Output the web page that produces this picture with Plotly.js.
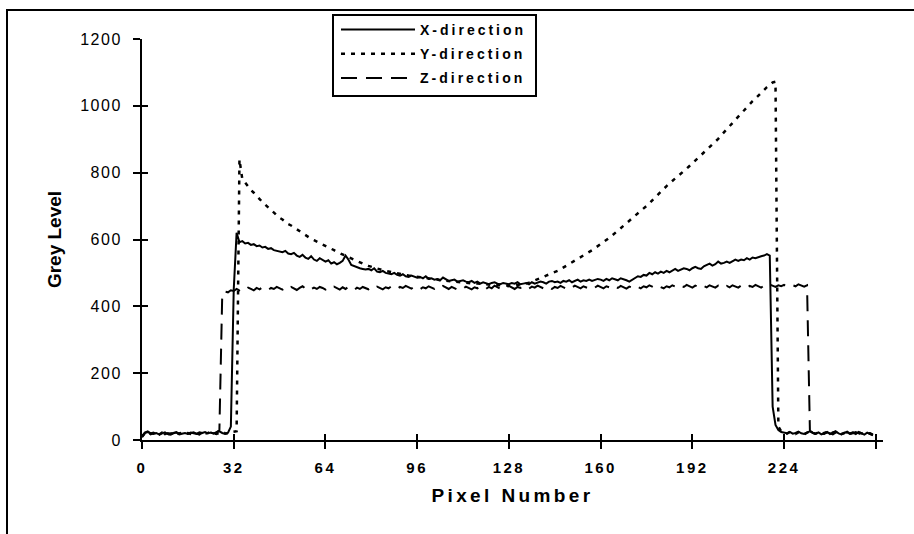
<!DOCTYPE html>
<html>
<head>
<meta charset="utf-8">
<script src="https://cdn.plot.ly/plotly-3.0.1.min.js"></script>
<style>
  html, body { margin: 0; padding: 0; background: #fff; }
  #chart { width: 914px; height: 534px; }
  .legendtext { letter-spacing: 3px; }
  .xtick text { letter-spacing: 2.5px; }
  .ytick text { letter-spacing: 1.5px; }
  .xtitle { letter-spacing: 3.4px; }
</style>
</head>
<body>
<div id="chart"></div>
<script>
// Pixel index (x axis)
const pixelNumber = Array.from({length: 256}, (_, i) => i);

// Tick positions / labels
const xTickValues = [0, 32, 64, 96, 128, 160, 192, 224, 256];
const xTickLabels = ['0', '32', '64', '96', '128', '160', '192', '224', ''];
const yTickValues = [0, 200, 400, 600, 800, 1000, 1200];

// Series names
const seriesNames = ['X-direction', 'Y-direction', 'Z-direction'];

// Grey level profiles
const xDirection = [
  8,22,26,20,18,21,17,19,23,18,16,20,22,17,19,21,
  18,20,23,19,17,21,24,20,22,19,23,26,21,18,22,40,
  450,620,592,595,588,590,584,586,580,582,576,578,572,574,568,566,
  565,562,566,558,556,560,552,548,554,546,542,550,540,536,544,540,
  534,538,528,532,526,530,536,552,540,524,520,516,514,512,510,512,
  508,514,504,502,506,500,498,496,500,494,492,496,490,488,492,490,
  486,488,484,490,482,484,480,482,478,486,480,476,478,480,474,476,
  478,474,472,476,470,474,468,472,470,466,470,472,468,466,470,468,
  466,470,468,472,466,468,470,466,472,468,470,474,472,468,474,476,
  472,474,470,476,474,478,472,476,480,474,478,476,480,476,478,482,
  480,476,482,478,484,480,478,484,482,478,474,480,486,490,488,494,
  492,500,496,502,498,504,500,506,502,508,512,506,510,514,512,508,
  514,518,514,512,520,524,528,522,526,534,528,530,534,530,536,540,
  536,540,538,544,540,546,544,548,550,552,556,552,100,45,30,24,
  22,20,24,19,21,25,20,18,22,26,21,19,23,17,20,24,
  18,22,26,20,17,21,25,19,22,18,24,20,16,22,19,14
];

const yDirection = [
  10,20,24,18,21,19,16,22,20,17,19,23,18,20,22,19,
  21,18,22,20,17,23,19,21,24,20,18,22,25,20,19,23,
  24,26,840,780,770,758,748,740,730,720,712,704,696,688,680,672,
  665,660,652,646,642,636,630,624,618,614,608,602,598,594,590,584,
  580,576,572,568,563,559,555,552,548,544,540,535,530,527,524,521,
  518,516,513,510,508,506,504,502,500,498,497,495,494,492,491,490,
  488,487,485,484,483,482,481,480,478,477,476,475,474,473,472,472,
  472,471,470,469,468,468,467,466,466,465,465,464,463,463,462,462,
  462,462,463,463,464,466,468,471,474,478,481,485,488,492,495,498,
  502,506,511,516,522,527,532,537,542,547,552,557,562,568,574,580,
  585,592,599,605,612,619,626,633,640,648,656,664,672,679,686,693,
  700,709,718,726,735,743,752,760,768,775,782,789,796,804,812,820,
  828,836,844,852,860,868,876,884,892,901,911,920,930,940,949,958,
  968,977,986,996,1005,1014,1022,1031,1040,1048,1056,1063,1070,1072,40,26,
  22,19,24,20,18,23,21,17,22,25,20,19,23,18,21,24,
  19,22,25,20,18,21,24,19,22,17,23,20,18,21,19,16
];

const zDirection = [
  12,21,24,19,22,18,20,23,17,21,19,22,24,18,20,21,
  19,22,20,18,23,21,19,24,22,20,23,30,438,444,442,448,
  446,452,448,454,450,456,452,448,455,451,457,453,449,455,452,458,
  454,450,456,452,458,454,449,455,460,453,457,451,456,452,458,455,
  450,456,453,459,454,450,457,452,458,454,449,456,452,458,455,451,
  457,453,459,455,451,457,454,460,456,452,458,455,461,457,453,459,
  455,451,457,454,460,456,452,458,455,461,456,452,458,455,450,456,
  453,459,455,451,457,454,460,456,452,458,454,462,457,453,459,455,
  461,456,452,458,455,461,457,453,459,456,462,458,454,460,456,452,
  458,455,461,457,453,459,456,462,458,454,460,457,453,459,456,462,
  458,454,460,457,463,459,455,461,457,453,459,456,462,458,454,460,
  457,463,459,455,461,458,454,460,457,463,459,455,461,458,464,460,
  456,462,458,455,461,457,463,459,456,462,458,455,461,457,463,460,
  456,462,459,455,461,458,464,460,456,462,459,465,461,458,463,460,
  464,461,458,463,460,466,462,459,463,28,22,19,24,20,18,23,
  21,17,22,25,20,19,23,18,21,24,20,17,22,19,21,16
];

const FONT = 'Liberation Sans, Arial, sans-serif';

const traces = [
  { x: pixelNumber, y: xDirection, name: seriesNames[0], type: 'scatter', mode: 'lines',
    legendgroup: 'a', line: { color: '#000', width: 2 } },
  { x: pixelNumber, y: yDirection, name: seriesNames[1], type: 'scatter', mode: 'lines',
    legendgroup: 'b', line: { color: '#000', width: 2.5, dash: '4px,6px' } },
  { x: pixelNumber, y: zDirection, name: seriesNames[2], type: 'scatter', mode: 'lines',
    legendgroup: 'c', line: { color: '#000', width: 2, dash: '16px,9px' } },
  { x: [null], y: [null], xaxis: 'x2', yaxis: 'y2', showlegend: false, hoverinfo: 'skip',
    type: 'scatter', mode: 'lines' }
];

const commonX = { range: [0, 258.5], tickmode: 'array', tickvals: xTickValues,
  showgrid: false, zeroline: false, fixedrange: true };
const commonY = { range: [0, 1200], tickmode: 'array', tickvals: yTickValues,
  showgrid: false, zeroline: false, fixedrange: true };

const layout = {
  width: 914, height: 534,
  margin: { l: 142, r: 31, t: 39, b: 94, pad: 0 },
  paper_bgcolor: '#fff', plot_bgcolor: '#fff',
  font: { family: FONT, color: '#000' },
  showlegend: true,
  xaxis: Object.assign({}, commonX, {
    ticktext: xTickLabels,
    ticks: 'outside', ticklen: 7, tickwidth: 2, tickcolor: '#000',
    showline: true, linewidth: 2, linecolor: '#000',
    ticklabelstandoff: 6,
    tickfont: { family: FONT, size: 15, weight: 'bold', color: '#000' },
    title: { text: 'Pixel Number', font: { family: FONT, size: 19, weight: 'bold', color: '#000' }, standoff: 14 }
  }),
  yaxis: Object.assign({}, commonY, {
    ticks: 'outside', ticklen: 7, tickwidth: 2, tickcolor: '#000',
    showline: true, linewidth: 2, linecolor: '#000',
    ticklabelstandoff: 8,
    tickfont: { family: FONT, size: 16, color: '#000' },
    title: { text: 'Grey Level', font: { family: FONT, size: 19, weight: 'bold', color: '#000' }, standoff: 14 }
  }),
  xaxis2: Object.assign({}, commonX, {
    overlaying: 'x', anchor: 'y', side: 'bottom',
    ticks: 'inside', ticklen: 6, tickwidth: 2, tickcolor: '#000',
    showticklabels: false, showline: false
  }),
  yaxis2: Object.assign({}, commonY, {
    overlaying: 'y', anchor: 'x', side: 'left',
    ticks: 'inside', ticklen: 6, tickwidth: 2, tickcolor: '#000',
    showticklabels: false, showline: false
  }),
  legend: {
    x: (336 - 142) / 741, y: (440 - 14) / 401, xanchor: 'left', yanchor: 'top',
    bgcolor: 'rgba(0,0,0,0)', borderwidth: 0,
    itemwidth: 74, tracegroupgap: 3,
    font: { family: FONT, size: 14, weight: 'bold', color: '#000' }
  },
  shapes: [
    // legend box
    { type: 'rect', xref: 'paper', yref: 'paper',
      x0: (333 - 142) / 741, x1: (536 - 142) / 741,
      y0: (440 - 96) / 401, y1: (440 - 15) / 401,
      line: { color: '#000', width: 2 }, fillcolor: 'rgba(0,0,0,0)' },
    // outer chart frame
    { type: 'rect', xref: 'paper', yref: 'paper',
      x0: (7 - 142) / 741, x1: (930 - 142) / 741,
      y0: (440 - 550) / 401, y1: (440 - 10) / 401,
      line: { color: '#000', width: 2 }, fillcolor: 'rgba(0,0,0,0)' }
  ]
};

Plotly.newPlot('chart', traces, layout, { displayModeBar: false, staticPlot: true });
</script>
</body>
</html>
